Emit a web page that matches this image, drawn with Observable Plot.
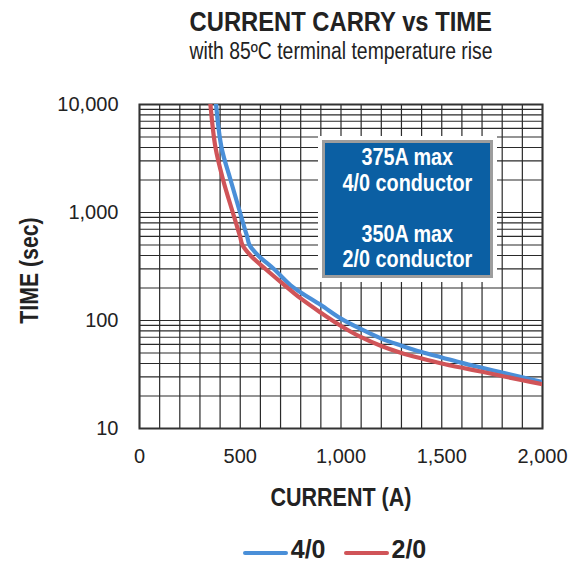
<!DOCTYPE html>
<html>
<head>
<meta charset="utf-8">
<script src="https://cdn.jsdelivr.net/npm/d3@7"></script>
<script src="https://cdn.jsdelivr.net/npm/@observablehq/plot@0.6"></script>
<style>
  html, body { margin: 0; padding: 0; background: #fff; }
  #wrap { position: relative; width: 581px; height: 564px; overflow: hidden; font-family: "Liberation Sans", Arial, sans-serif; color: #222; }
  .row { position: absolute; display: flex; justify-content: center; align-items: center; white-space: nowrap; }
  .sq { display: inline-block; transform-origin: center center; }
  #title { left: 139px; width: 403px; top: 8px; height: 28px; font-weight: bold; font-size: 27px; }
  #title .sq { transform: scaleX(0.88); }
  #subtitle { left: 139px; width: 403px; top: 38px; height: 26px; font-size: 23px; }
  #subtitle .sq { transform: scaleX(0.842); }
  #xlabel { left: 139px; width: 403px; top: 483px; height: 28px; font-weight: bold; font-size: 25px; }
  #xlabel .sq { transform: scaleX(0.86); }
  #ylabel { left: 30px; top: 270px; width: 0; height: 0; }
  #ylabel .sq { font-weight: bold; font-size: 25px; transform: rotate(-90deg) scaleX(0.85); }
  #chart { position: absolute; left: 0; top: 70px; }
  #note { position: absolute; left: 322px; top: 140px; width: 171px; height: 138px; box-sizing: border-box;
          background: #0b5fa3; border: 3px solid #9d9d9d; outline: 4px solid #fff;
          display: flex; flex-direction: column; justify-content: center; align-items: center;
          color: #fff; font-weight: bold; font-size: 23px; line-height: 25.5px; text-align: center; white-space: nowrap; }
  #note .sq { transform: scaleX(0.86); }
  #legend { left: 0; width: 581px; top: 539px; height: 20px; padding-left: 88px; box-sizing: border-box; }
  .item { display: flex; align-items: center; margin: 0 9px; font-weight: bold; font-size: 25px; line-height: 20px; height: 20px; }
  .sw { width: 45px; height: 4px; border-radius: 2px; margin-right: 3px; transform: translateY(4px); }
</style>
</head>
<body>
<div id="wrap">
  <div id="title" class="row"><span class="sq"></span></div>
  <div id="subtitle" class="row"><span class="sq"></span></div>
  <div id="chart"></div>
  <div id="xlabel" class="row"><span class="sq"></span></div>
  <div id="ylabel" class="row"><span class="sq"></span></div>
  <div id="note"></div>
  <div id="legend" class="row"></div>
</div>
<script>
// ---- data ----
const titleText = "CURRENT CARRY vs TIME";
const subtitleText = "with 85ºC terminal temperature rise";
const xLabel = "CURRENT (A)";
const yLabel = "TIME (sec)";
const noteLines = ["375A max", "4/0 conductor", "", "350A max", "2/0 conductor"];

const seriesNames = ["4/0", "2/0"];
const seriesColors = ["#4a8fd8", "#d05458"];

// 4/0 conductor
const current4 = [380, 407, 452, 499, 523, 534, 546, 589, 667, 750, 800, 900, 1000, 1100, 1200, 1300, 1400, 1500, 1600, 1700, 1800, 1900, 2000];
const time4    = [10000, 4000, 2000, 1000, 700, 600, 500, 400, 300, 212, 182, 139, 104, 83, 68, 58.5, 51, 45.5, 40.5, 36.5, 33, 29.8, 27];
// 2/0 conductor
const current2 = [352, 377, 415, 463, 488, 499, 511, 551, 625, 700, 800, 900, 1000, 1100, 1200, 1300, 1400, 1500, 1600, 1700, 1800, 1900, 2000];
const time2    = [10000, 4000, 2000, 1000, 700, 600, 500, 400, 300, 228, 160, 118, 89, 70, 58, 50, 44.5, 40, 36.5, 33.5, 30.6, 28, 25.7];

const xTicks = [0, 500, 1000, 1500, 2000];
const yTicks = [10, 100, 1000, 10000];
const xDomain = [0, 2000];
const yDomain = [10, 10000];

// ---- build ----
const rows = [
  ...current4.map((c, i) => ({series: seriesNames[0], current: c, time: time4[i]})),
  ...current2.map((c, i) => ({series: seriesNames[1], current: c, time: time2[i]}))
];
const xGrid = d3.range(xDomain[0], xDomain[1] + 1, 100);
const yGrid = [];
for (let d = 10; d < 10000; d *= 10) for (let k = 1; k < 10; k++) yGrid.push(k * d);
yGrid.push(10000);

document.querySelector("#title .sq").textContent = titleText;
document.querySelector("#subtitle .sq").textContent = subtitleText;
document.querySelector("#xlabel .sq").textContent = xLabel;
document.querySelector("#ylabel .sq").textContent = yLabel;
const note = document.getElementById("note");
noteLines.forEach(t => {
  const d = document.createElement("div");
  const s = document.createElement("span"); s.className = "sq"; s.textContent = t || "\u00a0";
  d.appendChild(s); note.appendChild(d);
});

const fmt = d3.format(",");
const chart = Plot.plot({
  width: 581,
  height: 440,
  marginLeft: 139,
  marginRight: 39,
  marginTop: 34,
  marginBottom: 82,
  style: {fontFamily: "'Liberation Sans', Arial, sans-serif", fontSize: "20px", color: "#222", background: "#fff", overflow: "visible"},
  x: {domain: xDomain, type: "linear"},
  y: {domain: yDomain, type: "log"},
  color: {domain: seriesNames, range: seriesColors},
  marks: [
    Plot.ruleX(xGrid, {stroke: "#2a2a2a", strokeWidth: 1.2}),
    Plot.ruleY(yGrid, {stroke: "#2a2a2a", strokeWidth: 1.2}),
    Plot.frame({stroke: "#333", strokeWidth: 2}),
    Plot.axisX({ticks: xTicks, tickFormat: fmt, tickSize: 0, tickPadding: 20, label: null, fontSize: 20}),
    Plot.axisY({ticks: yTicks, tickFormat: fmt, tickSize: 0, tickPadding: 21, label: null, fontSize: 20}),
    Plot.line(rows, {x: "current", y: "time", z: "series", stroke: "series", strokeWidth: 4.2, curve: "catmull-rom", clip: true})
  ]
});
document.getElementById("chart").appendChild(chart);

const legend = document.getElementById("legend");
seriesNames.forEach((n, i) => {
  const it = document.createElement("div"); it.className = "item";
  const sw = document.createElement("div"); sw.className = "sw"; sw.style.background = seriesColors[i];
  const lb = document.createElement("span"); lb.textContent = n;
  it.appendChild(sw); it.appendChild(lb); legend.appendChild(it);
});
</script>
</body>
</html>
